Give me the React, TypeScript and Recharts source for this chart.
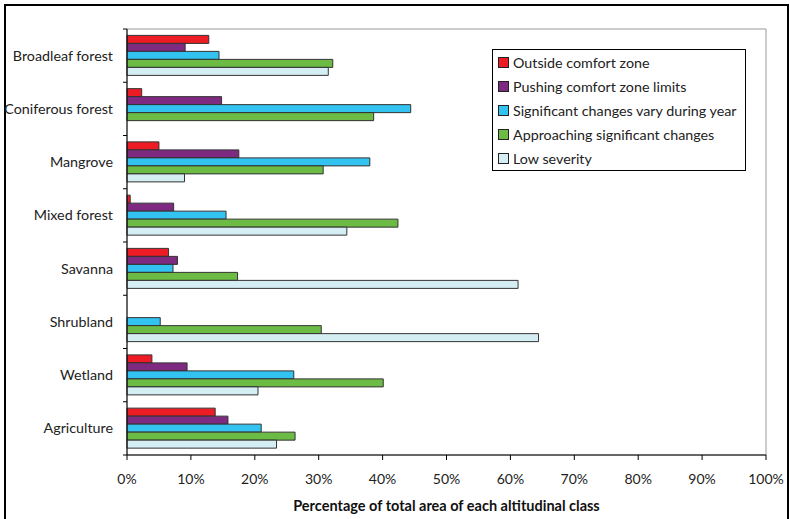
import React from 'react';
import { BarChart, Bar, XAxis, YAxis, Legend, ReferenceArea, Label } from 'recharts';

const categories = ['Broadleaf forest', 'Coniferous forest', 'Mangrove', 'Mixed forest', 'Savanna', 'Shrubland', 'Wetland', 'Agriculture'];
const outsideComfort = [12.8, 2.3, 5.0, 0.5, 6.5, 0, 3.9, 13.8];
const pushingLimits = [9.1, 14.8, 17.5, 7.3, 7.9, 0, 9.4, 15.8];
const significantVary = [14.4, 44.4, 38.0, 15.5, 7.2, 5.2, 26.1, 21.0];
const approaching = [32.2, 38.6, 30.7, 42.4, 17.3, 30.4, 40.1, 26.3];
const lowSeverity = [31.5, 0, 9.0, 34.4, 61.2, 64.4, 20.5, 23.4];
const xTicks = [0, 10, 20, 30, 40, 50, 60, 70, 80, 90, 100];

const seriesDefs = [
  { key: 'outside', name: 'Outside comfort zone', color: '#ED1C24', values: outsideComfort },
  { key: 'pushing', name: 'Pushing comfort zone limits', color: '#7E2A80', values: pushingLimits },
  { key: 'vary', name: 'Significant changes vary during year', color: '#33C3F0', values: significantVary },
  { key: 'approach', name: 'Approaching significant changes', color: '#6CBB45', values: approaching },
  { key: 'low', name: 'Low severity', color: '#D5EEF4', values: lowSeverity },
];

const data = categories.map((c, i) => {
  const row: Record<string, any> = { category: c };
  seriesDefs.forEach((s) => (row[s.key] = s.values[i]));
  return row;
});

const FONT = 'Lato, "Open Sans", sans-serif';
const TICK_MARGIN = 14;

const CategoryTick = (props: any) => {
  const { x, y, payload, index, visibleTicksCount } = props;
  const off = payload.offset || 0;
  const ax = x + TICK_MARGIN;
  return (
    <g>
      <line x1={ax - 4} x2={ax} y1={y - off} y2={y - off} stroke="#000" strokeWidth={1} />
      {index === visibleTicksCount - 1 && (
        <line x1={ax - 4} x2={ax} y1={y + off} y2={y + off} stroke="#000" strokeWidth={1} />
      )}
      <text x={x} y={y} dy={5} textAnchor="end" fontFamily={FONT} fontSize={14.3} fill="#222">
        {payload.value}
      </text>
    </g>
  );
};

const LegendContent = () => (
  <div
    style={{
      border: '1px solid #000',
      background: '#fff',
      width: 254,
      height: 122,
      boxSizing: 'border-box',
      padding: '0 0 0 5px',
      fontFamily: FONT,
      fontSize: 14.3,
      color: '#222',
    }}
  >
    {seriesDefs.map((s) => (
      <div key={s.key} style={{ display: 'flex', alignItems: 'center', height: 24, whiteSpace: 'nowrap' }}>
        <span
          style={{
            display: 'inline-block',
            width: 9,
            height: 9,
            background: s.color,
            border: '1px solid #222',
            marginRight: 4,
            flexShrink: 0,
          }}
        />
        <span>{s.name}</span>
      </div>
    ))}
  </div>
);

export default function App() {
  return (
    <div style={{ position: 'absolute', left: 0, top: 0, width: 790, height: 519, background: '#fff' }}>
      <div
        style={{
          position: 'absolute',
          left: 4,
          top: 4,
          width: 785,
          height: 515,
          boxSizing: 'border-box',
          borderTop: '2px solid #000',
          borderLeft: '2px solid #000',
          borderRight: '2px solid #000',
        }}
      />
      <div style={{ position: 'absolute', left: 0, top: 0 }}>
        <BarChart
          width={790}
          height={519}
          data={data}
          layout="vertical"
          margin={{ top: 29, right: 24, bottom: 34, left: 7 }}
          barCategoryGap="12%"
          barGap={0}
        >
          <ReferenceArea x1={0} x2={100} fill="none" stroke="#999" strokeWidth={1} ifOverflow="visible" />
          <XAxis
            type="number"
            domain={[0, 100]}
            ticks={xTicks}
            tickFormatter={(v: number) => `${v}%`}
            height={30}
            tickSize={5}
            tickMargin={14}
            axisLine={{ stroke: '#000' }}
            tickLine={{ stroke: '#000' }}
            tick={{ fontFamily: FONT, fontSize: 14, fill: '#222' }}
            interval={0}
          >
            <Label
              value="Percentage of total area of each altitudinal class"
              position="bottom"
              offset={16}
              style={{ fontFamily: FONT, fontSize: 14.5, fontWeight: 700, fill: '#111' }}
            />
          </XAxis>
          <YAxis
            type="category"
            dataKey="category"
            width={120}
            tickSize={0}
            tickMargin={TICK_MARGIN}
            tickLine={false}
            axisLine={{ stroke: '#000' }}
            tick={<CategoryTick />}
            interval={0}
          />
          <Legend
            layout="vertical"
            verticalAlign="middle"
            align="center"
            content={<LegendContent />}
            wrapperStyle={{ position: 'absolute', left: 492, top: 49, width: 254, height: 122 }}
          />
          {seriesDefs.map((s) => (
            <Bar
              key={s.key}
              dataKey={s.key}
              name={s.name}
              fill={s.color}
              stroke="#333"
              strokeWidth={1}
              isAnimationActive={false}
            />
          ))}
        </BarChart>
      </div>
    </div>
  );
}
